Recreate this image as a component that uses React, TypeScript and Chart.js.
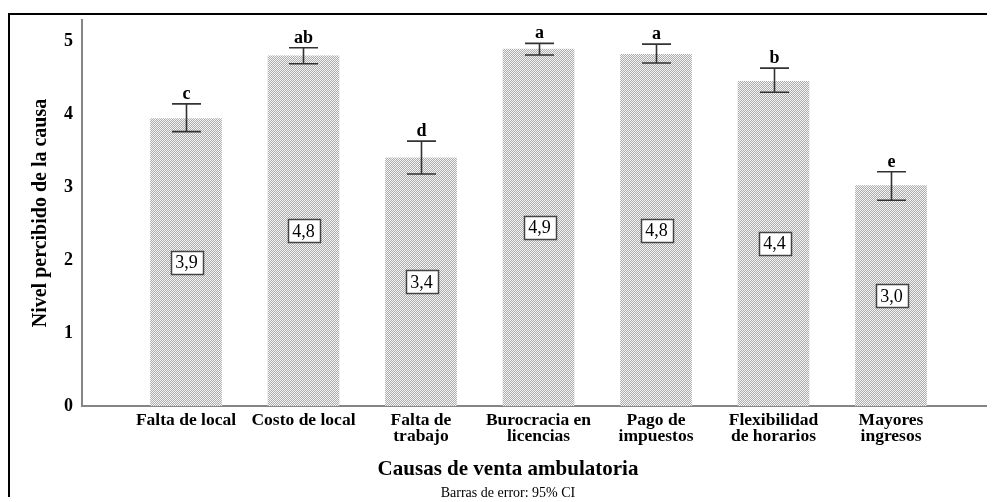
import React, { useEffect, useRef } from "react";
import { Chart, registerables } from "chart.js";

Chart.register(...registerables);

const categories: string[][] = [
  ["Falta de local"],
  ["Costo de local"],
  ["Falta de", "trabajo"],
  ["Burocracia en", "licencias"],
  ["Pago de", "impuestos"],
  ["Flexibilidad", "de horarios"],
  ["Mayores", "ingresos"],
];
const means: number[] = [3.94, 4.8, 3.4, 4.89, 4.82, 4.45, 3.02];
const upper: number[] = [4.14, 4.91, 3.63, 4.97, 4.96, 4.63, 3.21];
const lower: number[] = [3.76, 4.69, 3.18, 4.81, 4.7, 4.3, 2.82];
const groupLetters: string[] = ["c", "ab", "d", "a", "a", "b", "e"];
const valueLabels: string[] = ["3,9", "4,8", "3,4", "4,9", "4,8", "4,4", "3,0"];
const yTicks: number[] = [0, 1, 2, 3, 4, 5];

const FONT = "'Liberation Serif', 'Times New Roman', serif";

function makePattern(): CanvasPattern | string {
  const c = document.createElement("canvas");
  c.width = 2;
  c.height = 2;
  const g = c.getContext("2d");
  if (!g) return "#cccccc";
  g.fillStyle = "#f6f6f6";
  g.fillRect(0, 0, 2, 2);
  g.fillStyle = "#ababab";
  g.fillRect(0, 0, 1, 1);
  g.fillRect(1, 1, 1, 1);
  const p = g.createPattern(c, "repeat");
  return p || "#cccccc";
}

const overlayPlugin = {
  id: "overlay",
  afterDatasetsDraw(chart: any) {
    const { ctx, scales } = chart;
    const xs = scales.x;
    const ys = scales.y;
    ctx.save();
    for (let i = 0; i < means.length; i++) {
      const x = Math.round(xs.getPixelForValue(i)) + 0.5;
      const yHi = ys.getPixelForValue(upper[i]);
      const yLo = ys.getPixelForValue(lower[i]);
      ctx.strokeStyle = "#333333";
      ctx.lineWidth = 1.6;
      ctx.beginPath();
      ctx.moveTo(x, yHi);
      ctx.lineTo(x, yLo);
      ctx.moveTo(x - 14.5, yHi);
      ctx.lineTo(x + 14.5, yHi);
      ctx.moveTo(x - 14.5, yLo);
      ctx.lineTo(x + 14.5, yLo);
      ctx.stroke();

      ctx.fillStyle = "#000";
      ctx.font = `bold 18px ${FONT}`;
      ctx.textAlign = "center";
      ctx.textBaseline = "alphabetic";
      ctx.fillText(groupLetters[i], x, yHi - 5);

      const yMid = ys.getPixelForValue(means[i] / 2);
      ctx.font = `18px ${FONT}`;
      const w = ctx.measureText(valueLabels[i]).width;
      const bw = Math.round(w + 9);
      const bh = 23;
      const bx = Math.round(x - bw / 2) + 0.5;
      const by = Math.round(yMid - bh / 2) + 0.5;
      ctx.fillStyle = "#ffffff";
      ctx.fillRect(bx, by, bw, bh);
      ctx.strokeStyle = "#444444";
      ctx.lineWidth = 1.5;
      ctx.strokeRect(bx, by, bw, bh);
      ctx.fillStyle = "#000";
      ctx.textBaseline = "middle";
      ctx.fillText(valueLabels[i], x, yMid + 1);
    }
    ctx.fillStyle = "#000";
    ctx.textAlign = "center";
    ctx.textBaseline = "middle";
    ctx.font = `bold 21px ${FONT}`;
    ctx.fillText("Causas de venta ambulatoria", 498, 455);
    ctx.font = `14px ${FONT}`;
    ctx.fillText("Barras de error: 95% CI", 498, 478);
    ctx.restore();
  },
};

export default function App() {
  const ref = useRef<HTMLCanvasElement | null>(null);
  useEffect(() => {
    document.documentElement.style.overflow = "hidden";
    document.body.style.overflow = "hidden";
    if (!ref.current) return;
    const pattern = makePattern();
    const chart = new Chart(ref.current, {
      type: "bar",
      data: {
        datasets: [
          {
            data: means.map((v, i) => ({ x: i, y: v })),
            backgroundColor: pattern as any,
            borderWidth: 0,
            barThickness: 71,
          },
        ],
      },
      options: {
        animation: false,
        responsive: false,
        events: [],
        layout: { padding: { top: 5, left: 0, right: 0, bottom: 0 } },
        plugins: {
          legend: { display: false },
          tooltip: { enabled: false },
        },
        scales: {
          x: {
            type: "linear",
            offset: false,
            min: -0.885,
            max: 6.885,
            grid: { display: false, drawTicks: false, offset: false },
            border: { display: true, color: "#858585", width: 2 },
            afterBuildTicks: (scale: any) => {
              scale.ticks = categories.map((_, i) => ({ value: i }));
            },
            afterFit: (scale: any) => {
              scale.height = 96;
              scale.paddingLeft = 0;
              scale.paddingRight = 0;
              scale.paddingTop = 0;
              scale.paddingBottom = 0;
            },
            ticks: {
              autoSkip: false,
              maxRotation: 0,
              minRotation: 0,
              padding: 6,
              color: "#000",
              font: { family: FONT, size: 17.5, weight: "bold", lineHeight: 0.95 },
              callback: (value: any) => {
                const idx = Math.round(Number(value));
                return categories[idx] || "";
              },
            },
          },
          y: {
            type: "linear",
            min: 0,
            max: 5.29,
            grid: { display: false, drawTicks: false },
            border: { display: true, color: "#858585", width: 2 },
            afterBuildTicks: (scale: any) => {
              scale.ticks = yTicks.map((v) => ({ value: v }));
            },
            afterFit: (scale: any) => {
              scale.width = 72;
              scale.paddingTop = 0;
              scale.paddingBottom = 0;
              scale.paddingLeft = 0;
              scale.paddingRight = 0;
            },
            ticks: {
              padding: 9,
              color: "#000",
              font: { family: FONT, size: 18, weight: "bold" },
              callback: (value: any) => String(value),
            },
            title: {
              display: true,
              text: "Nivel percibido de la causa",
              color: "#000",
              font: { family: FONT, size: 20, weight: "bold", lineHeight: 1.2 },
              padding: { top: 19, bottom: 0 },
            },
          },
        },
      },
      plugins: [overlayPlugin],
    } as any);
    return () => chart.destroy();
  }, []);

  return (
    <div
      style={{
        position: "relative",
        top: 5,
        borderTop: "2px solid #000",
        borderLeft: "2px solid #000",
        width: 985,
        height: 487,
      }}
    >
      <canvas
        ref={ref}
        width={985}
        height={487}
        style={{ display: "block", width: 985, height: 487 }}
      />
    </div>
  );
}
